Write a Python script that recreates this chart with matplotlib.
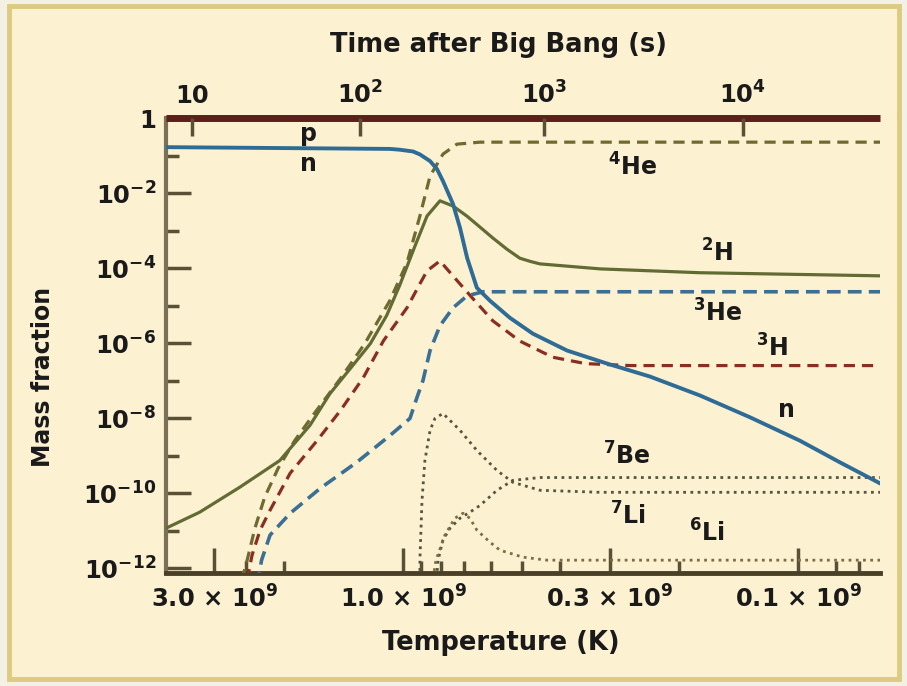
import matplotlib
matplotlib.use("Agg")
import matplotlib.pyplot as plt
from matplotlib.patches import Rectangle
from matplotlib.ticker import FixedLocator, NullFormatter, NullLocator

plt.rcParams['font.family'] = ['DejaVu Sans']
plt.rcParams['font.weight'] = 'bold'
plt.rcParams['mathtext.fontset'] = 'dejavusans'
plt.rcParams['mathtext.default'] = 'bf'

# ---------------- data (temperature in units of 1e9 K, mass fraction) ----------------
p_T = [3.98, 0.062]
p_Y = [1.0, 1.0]

n_T = [3.98, 1.08, 1.02, 0.943, 0.906, 0.854, 0.820, 0.792, 0.747, 0.717, 0.688, 0.650,
       0.602, 0.536, 0.469, 0.384, 0.304, 0.237, 0.177, 0.132, 0.0989, 0.0783, 0.062]
n_Y = [0.167, 0.150, 0.143, 0.128, 0.107, 0.071, 0.0435, 0.0208, 5.1e-3, 1.17e-3, 1.87e-4,
       2.97e-5, 1.34e-5, 4.7e-6, 1.78e-6, 6.3e-7, 2.83e-7, 1.28e-7, 4.0e-8, 1.04e-8,
       2.5e-9, 6.6e-10, 1.82e-10]

he4_T = [2.56, 2.48, 2.37, 2.24, 2.07, 1.88, 1.67, 1.44, 1.25, 1.08, 0.977, 0.906,
         0.854, 0.792, 0.730, 0.638, 0.062]
he4_Y = [4.8e-13, 1.63e-12, 1.16e-11, 7.7e-11, 4.6e-10, 2.5e-9, 1.41e-8, 1.13e-7, 9.6e-7,
         1.34e-5, 1.37e-4, 2.44e-3, 0.0283, 0.109, 0.201, 0.227, 0.227]

h2_T = [3.98, 3.27, 2.59, 2.05, 1.72, 1.53, 1.36, 1.21, 1.10, 1.02, 0.932, 0.869, 0.806,
        0.747, 0.688, 0.638, 0.592, 0.546, 0.506, 0.477, 0.450, 0.317, 0.177, 0.062]
h2_Y = [1.16e-11, 3.1e-11, 1.43e-10, 7.4e-10, 6.4e-9, 4.5e-8, 2.08e-7, 9.6e-7, 5.4e-6,
        3.4e-5, 3.9e-4, 2.44e-3, 6.2e-3, 4.5e-3, 2.4e-3, 1.23e-3, 6.3e-4, 3.2e-4,
        1.83e-4, 1.51e-4, 1.29e-4, 9.5e-5, 7.5e-5, 6.2e-5]

h3_T = [2.48, 2.41, 2.30, 2.17, 1.93, 1.65, 1.44, 1.26, 1.12, 0.977, 0.906, 0.869, 0.806,
        0.755, 0.668, 0.592, 0.506, 0.418, 0.345, 0.265, 0.062]
h3_Y = [4.8e-13, 2.22e-12, 1.03e-11, 3.5e-11, 3.4e-10, 2.5e-9, 1.59e-8, 1.20e-7, 1.16e-6,
        8.7e-6, 3.8e-5, 8.4e-5, 1.55e-4, 7.0e-5, 1.61e-5, 3.9e-6, 1.13e-6, 4.2e-7,
        2.83e-7, 2.51e-7, 2.51e-7]

he3_T = [2.34, 2.28, 2.17, 1.93, 1.62, 1.31, 1.08, 0.960, 0.922, 0.890, 0.854, 0.806,
         0.747, 0.688, 0.627, 0.062]
he3_Y = [3.5e-13, 1.63e-12, 7.6e-12, 2.9e-11, 1.34e-10, 6.6e-10, 3.4e-9, 9.8e-9, 3.5e-8,
         1.0e-7, 6.3e-7, 2.9e-6, 8.7e-6, 1.82e-5, 2.33e-5, 2.33e-5]

li7_T = [0.906, 0.906, 0.895, 0.880, 0.854, 0.830, 0.792, 0.717, 0.650, 0.578, 0.527,
         0.450, 0.317, 0.062]
li7_Y = [3.5e-13, 1.63e-12, 6.4e-11, 7.4e-10, 4.7e-9, 9.8e-9, 1.33e-8, 4.7e-9, 1.37e-9,
         4.0e-10, 1.94e-10, 1.19e-10, 1.05e-10, 1.05e-10]

be7_T = [0.825, 0.815, 0.792, 0.760, 0.717, 0.677, 0.638, 0.578, 0.527, 0.450, 0.062]
be7_Y = [3.5e-13, 1.63e-12, 5.6e-12, 1.16e-11, 2.14e-11, 3.1e-11, 4.7e-11, 1.19e-10,
         2.19e-10, 2.6e-10, 2.6e-10]

li6_T = [0.845, 0.825, 0.783, 0.739, 0.705, 0.677, 0.650, 0.602, 0.568, 0.497, 0.432, 0.062]
li6_Y = [3.5e-13, 1.63e-12, 7.6e-12, 2.14e-11, 2.9e-11, 2.14e-11, 1.03e-11, 4.9e-12,
         3.0e-12, 1.96e-12, 1.63e-12, 1.63e-12]

temp_ticks = [3.0, 1.0, 0.3, 0.1]
temp_labels = [r'3.0 $\times$ 10$^{9}$', r'1.0 $\times$ 10$^{9}$',
               r'0.3 $\times$ 10$^{9}$', r'0.1 $\times$ 10$^{9}$']
temp_minor = [2.5, 2.0, 0.9, 0.8, 0.7, 0.6, 0.5, 0.4, 0.2, 0.08, 0.07]
time_ticks_T = [3.42, 1.285, 0.44, 0.138]
time_labels = ['10', r'10$^{2}$', r'10$^{3}$', r'10$^{4}$']
y_major = [1, 1e-2, 1e-4, 1e-6, 1e-8, 1e-10, 1e-12]
y_labels = ['1', r'10$^{-2}$', r'10$^{-4}$', r'10$^{-6}$', r'10$^{-8}$',
            r'10$^{-10}$', r'10$^{-12}$']
y_minor = [1e-1, 1e-3, 1e-5, 1e-7, 1e-9, 1e-11]

labels_txt = [r'p', r'n', r'$^{4}$He', r'$^{2}$H', r'$^{3}$He', r'$^{3}$H', r'n',
              r'$^{7}$Be', r'$^{7}$Li', r'$^{6}$Li']
labels_T = [1.73, 1.73, 0.263, 0.160, 0.160, 0.116, 0.107, 0.272, 0.269, 0.170]
labels_Y = [0.371, 0.059, 0.049, 2.5e-4, 6.4e-6, 7.6e-7, 1.6e-8, 1.0e-9, 2.4e-11, 8.5e-12]

# ---------------- figure ----------------
W, H = 907, 686
fig = plt.figure(figsize=(W / 100, H / 100), dpi=100)
fig.patch.set_facecolor('#F3F1E3')
fig.patches.append(Rectangle((9 / W, 7 / H), (899 - 9) / W, (680 - 7) / H,
                             transform=fig.transFigure, facecolor='#FCF2D2',
                             edgecolor='#DCCB80', lw=3.5, zorder=-10))

ax = fig.add_axes([166 / W, 1 - 573 / H, (880 - 166) / W, (573 - 118) / H])
ax.set_facecolor('none')
ax.set_xscale('log')
ax.set_yscale('log')
ax.set_xlim(3.98, 0.062)
ax.set_ylim(10 ** -12.13, 1.0)

spine_col = '#5A5035'
txt_col = '#1A1A1A'
for s in ['top', 'right']:
    ax.spines[s].set_visible(False)
ax.spines['left'].set_color('#7A7058')
ax.spines['left'].set_linewidth(3)
ax.spines['bottom'].set_color('#4A4027')
ax.spines['bottom'].set_linewidth(3.5)

ax.xaxis.set_major_locator(FixedLocator(temp_ticks))
ax.set_xticklabels(temp_labels)
ax.xaxis.set_minor_locator(FixedLocator(temp_minor))
ax.xaxis.set_minor_formatter(NullFormatter())
ax.yaxis.set_major_locator(FixedLocator(y_major))
ax.set_yticklabels(y_labels)
ax.yaxis.set_minor_locator(FixedLocator(y_minor))
ax.yaxis.set_minor_formatter(NullFormatter())

ax.tick_params(axis='both', which='major', direction='in', length=18, width=2.5,
               color=spine_col, labelsize=17.5, labelcolor=txt_col)
ax.tick_params(axis='both', which='minor', direction='in', length=9, width=2.5,
               color=spine_col)
ax.tick_params(axis='y', which='major', pad=7)
ax.tick_params(axis='x', which='major', pad=9)

ax.set_xlabel('Temperature (K)', fontsize=18.5, fontweight='bold', color=txt_col)
ax.xaxis.set_label_coords(0.469, -0.125)
ax.set_ylabel('Mass fraction', fontsize=17, fontweight='bold', color=txt_col)
ax.yaxis.set_label_coords(-0.155, 0.431)

# top axis (time)
ax2 = ax.twiny()
ax2.set_facecolor('none')
ax2.set_xscale('log')
ax2.set_xlim(ax.get_xlim())
for s in ax2.spines.values():
    s.set_visible(False)
ax2.xaxis.set_major_locator(FixedLocator(time_ticks_T))
ax2.set_xticklabels(time_labels)
ax2.xaxis.set_minor_locator(NullLocator())
ax2.tick_params(axis='x', which='major', direction='in', length=13, width=2.5,
                color=spine_col, labelsize=17.5, labelcolor=txt_col, pad=7)
ax2.set_xlabel('Time after Big Bang (s)', fontsize=18.5, fontweight='bold', color=txt_col)
ax2.xaxis.set_label_coords(0.466, 1.145)

# curves
ax.plot(p_T, p_Y, color='#5C1F1A', lw=5, clip_on=False, zorder=5, solid_capstyle='butt')
ax.plot(he4_T, he4_Y, color='#6E6A30', lw=2.3, ls=(0, (3.5, 2.2)), zorder=3)
ax.plot(h2_T, h2_Y, color='#636B34', lw=2.3, zorder=3)
ax.plot(h3_T, h3_Y, color='#8B2E22', lw=2.3, ls=(0, (3.5, 2.2)), zorder=3)
ax.plot(he3_T, he3_Y, color='#3B6F93', lw=2.6, ls=(0, (3.8, 2.0)), zorder=3)
ax.plot(li7_T, li7_Y, color='#55553F', lw=2.0, ls=(0, (1, 1.6)), zorder=3)
ax.plot(be7_T, be7_Y, color='#55553F', lw=2.0, ls=(0, (1, 1.6)), zorder=3)
ax.plot(li6_T, li6_Y, color='#7E6C45', lw=2.0, ls=(0, (1, 1.6)), zorder=3)
ax.plot(n_T, n_Y, color='#2F6C95', lw=2.8, zorder=4)

for t, x, y in zip(labels_txt, labels_T, labels_Y):
    ax.text(x, y, t, fontsize=17, fontweight='bold', color=txt_col,
            ha='center', va='center', zorder=6)

fig.savefig('out.png', dpi=100, facecolor=fig.get_facecolor())
